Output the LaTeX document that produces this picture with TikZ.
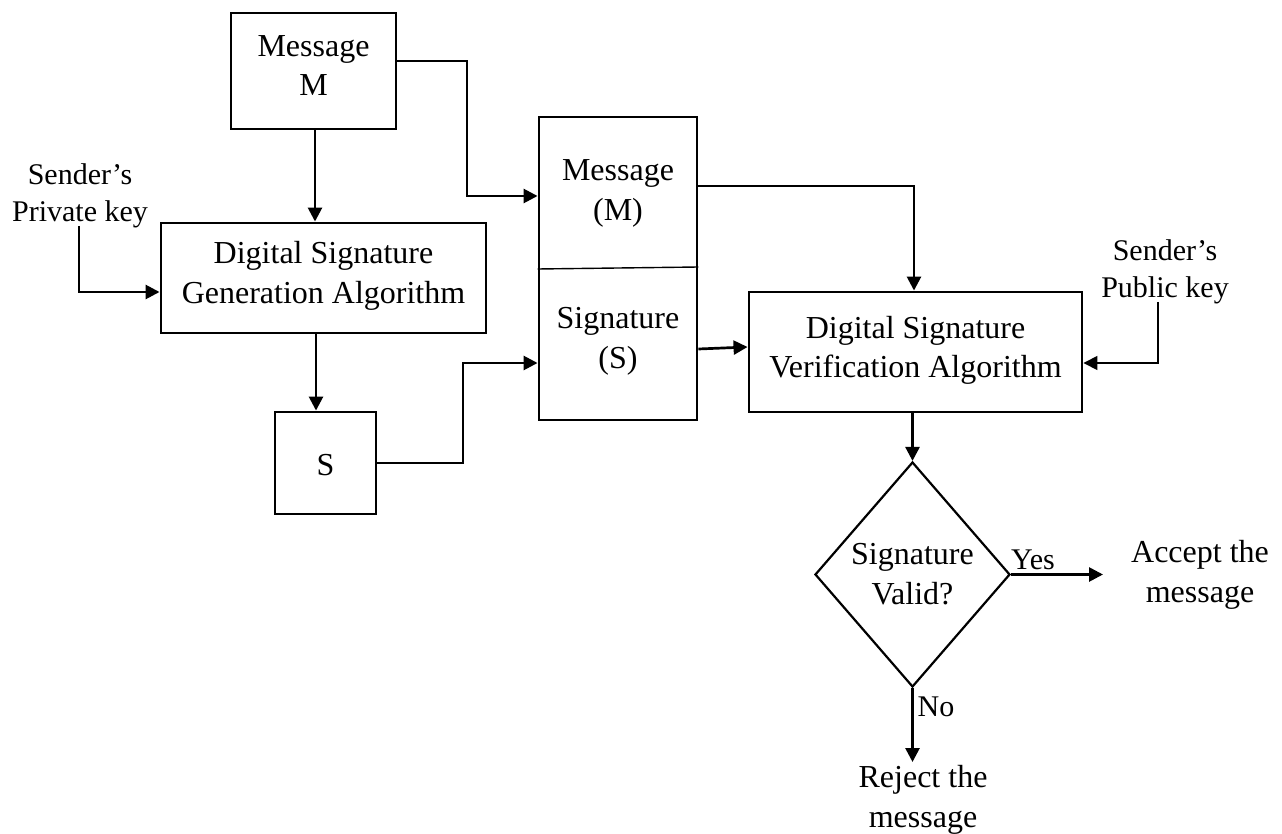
\documentclass[tikz,border=0pt]{standalone}
\usepackage{fontspec}
\setmainfont{Liberation Serif}
\usetikzlibrary{arrows.meta,shapes.geometric,calc}
\begin{document}
\begin{tikzpicture}[x=1pt,y=-1pt,
 box/.style={draw,line width=2.9pt,inner sep=0pt},
 txt/.style={align=center,inner sep=0pt,font=\fontsize{32}{39.5}\selectfont},
 lbl/.style={align=center,inner sep=0pt,font=\fontsize{30}{37}\selectfont},
 arr/.style={line width=2.7pt,-{Triangle[length=14pt,width=14pt]}},
 thinarr/.style={line width=1.6pt,-{Triangle[length=14pt,width=14pt]}},
 thinline/.style={line width=1.4pt}]
\useasboundingbox (0,0) rectangle (1282,834);
% boxes
\node[box,minimum width=165pt,minimum height=116pt] (msg) at (313.5,71) {};
\node[txt] (msgt) at (313.5,65.5) {Message\\M};
\node[box,minimum width=325pt,minimum height=110pt] (gen) at (323.5,278) {};
\node[txt] (gent) at (323.5,276) {Digital Signature\\Generation Algorithm};
\node[box,minimum width=101pt,minimum height=102pt] (S) at (325.5,463) {};
\node[txt] (St) at (325.5,465) {S};
\node[box,minimum width=158pt,minimum height=303pt] (mid) at (618,268.5) {};
\draw[thinline] (mid.west |- 0,269) -- (mid.east |- 0,267);
\node[txt] (midm) at (618,193.5) {Message\\(M)};
\node[txt] (mids) at (618,341.5) {Signature\\(S)};
\node[box,minimum width=333pt,minimum height=120pt] (ver) at (915.5,352) {};
\node[txt] (vert) at (915.5,350.5) {Digital Signature\\Verification Algorithm};
\node[draw,line width=2.2pt,shape=diamond,inner sep=0pt,minimum width=195pt,minimum height=225pt] (dia) at (912.5,574.5) {};
\node[txt] (diat) at (912.5,574) {Signature\\Valid?};
% labels
\node[lbl] (pk) at (80,196) {Sender’s\\Private key};
\node[lbl] (pub) at (1165,272) {Sender’s\\Public key};
\node[txt] (acc) at (1200,575) {Accept the\\message};
\node[txt] (rej) at (923,800) {Reject the\\message};
\node[lbl] (yes) at (1033,560) {Yes};
\node[lbl] (no) at (936,707) {No};
\coordinate (accin) at (1103,574.5);
\coordinate (rejin) at (912.5,762);
% connectors
\draw[arr] (msg.south -| 315,0) -- (gen.north -| 315,0);
\draw[arr] (79,226) |- (gen.west |- 0,292);
\draw[arr] (gen.south -| 316,0) -- (S.north -| 316,0);
\draw[arr] (S.east) -| (463,363) -- (mid.west |- 0,363);
\draw[arr] (msg.east |- 0,61) -| (467,196) -- (mid.west |- 0,196);
\draw[thinline] (mid.east |- 0,186) -- (914,186);
\draw[arr] (914,185.3) -- (ver.north -| 914,0);
\draw[arr] (mid.east |- 0,349) -- (ver.west |- 0,347);
\draw[thinarr] (1158,302) |- (ver.east |- 0,363);
\draw[arr] (ver.south -| 912.5,0) -- (dia.north);
\draw[arr] (dia.east) -- (accin);
\draw[arr] (dia.south) -- (rejin);
\end{tikzpicture}
\end{document}
